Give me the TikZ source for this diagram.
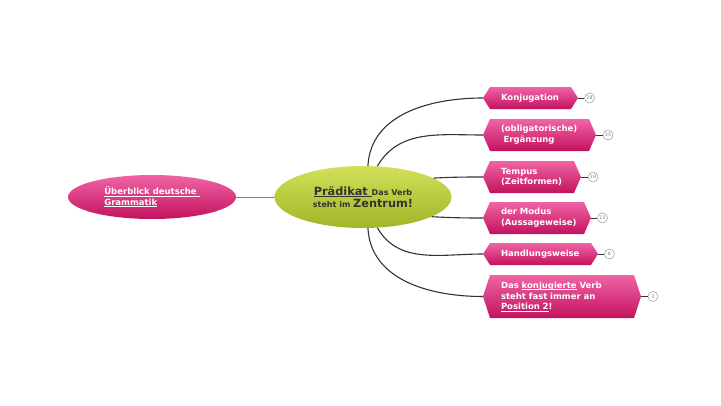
\documentclass[tikz,border=0pt]{standalone}
\usepackage{fontspec}
\setmainfont{DejaVu Sans}
\usetikzlibrary{shapes.geometric}
\definecolor{pinkTop}{HTML}{F064A6}
\definecolor{pinkMid}{HTML}{D62C77}
\definecolor{pinkBot}{HTML}{C3125E}
\definecolor{greenTop}{HTML}{D2E05A}
\definecolor{greenBot}{HTML}{A2B526}
\definecolor{darktext}{HTML}{333333}
\newcommand{\hexfont}{\fontsize{8.5}{10.8}\selectfont\bfseries}
\newsavebox{\ulxbox}
\newcommand{\ulx}[1]{\leavevmode\hbox{\sbox{\ulxbox}{#1}\rlap{\rule[-1.4pt]{\wd\ulxbox}{0.55pt}}\usebox{\ulxbox}}}
\tikzset{
  hexbox/.style={inner ysep=0pt, inner xsep=18pt, align=left, text=white, font=\hexfont,
    path picture={\shade[top color=pinkTop, middle color=pinkMid, bottom color=pinkBot]
      (path picture bounding box.west) -- ([xshift=7pt]path picture bounding box.north west)
      -- ([xshift=-7pt]path picture bounding box.north east) -- (path picture bounding box.east)
      -- ([xshift=-7pt]path picture bounding box.south east) -- ([xshift=7pt]path picture bounding box.south west) -- cycle;}},
  cnt/.style={circle, draw=gray!80, fill=white, line width=0.5pt, minimum size=10pt, inner sep=0pt,
    font=\fontsize{4.8}{5}\selectfont, text=gray},
  conn/.style={draw=darktext, line width=1.1pt},
  tick/.style={draw=darktext, line width=0.7pt},
}
\begin{document}
\begin{tikzpicture}[x=1pt,y=-1pt]
\useasboundingbox (0,0) rectangle (721,405);
\fill[white] (0,0) rectangle (721,405);

% left topic
\node[ellipse, minimum width=168pt, minimum height=44pt, inner sep=0pt,
  top color=pinkTop, middle color=pinkMid, bottom color=pinkBot,
  text=white, font=\hexfont, align=left] (l) at (152,197)
  {\ulx{Überblick deutsche }\\\ulx{Grammatik}};

% central topic
\node[ellipse, minimum width=177pt, minimum height=62pt, inner sep=0pt,
  top color=greenTop, bottom color=greenBot, text=darktext, align=center,
  font=\bfseries\fontsize{8}{12.5}\selectfont] (c) at (363,197)
  {{\fontsize{11.3}{12}\selectfont\ulx{Prädikat }}Das Verb\\steht im {\fontsize{11.3}{12}\selectfont Zentrum!}};

\draw[gray, line width=0.7pt] (l.east) -- (c.west);

% right subtopics
\node[hexbox, text width=59pt, minimum height=22pt] (k) at (530.5,98) {Konjugation};
\node[hexbox, text width=77pt, minimum height=32pt] (e) at (539.5,135) {(obligatorische)\\\hspace{2.5pt}Ergänzung};
\node[hexbox, text width=62pt, minimum height=32pt] (t) at (532,177) {Tempus\\(Zeitformen)};
\node[hexbox, text width=72pt, minimum height=32pt] (m) at (537,218) {der Modus\\(Aussageweise)};
\node[hexbox, text width=79pt, minimum height=22pt] (h) at (540.5,254) {Handlungsweise};
\node[hexbox, text width=122pt, minimum height=43pt] (p) at (562,296.5)
  {Das \ulx{konjugierte} Verb\\steht fast immer an\\\ulx{Position 2}!};

% counters
\node[cnt] (k1) at (589.5,98) {28};
\node[cnt] (e1) at (608,135) {35};
\node[cnt] (t1) at (593,177) {19};
\node[cnt] (m1) at (602.5,218) {15};
\node[cnt] (h1) at (609.5,254) {6};
\node[cnt] (p1) at (653,296.5) {3};
\draw[tick] (k.east) -- (k1);
\draw[tick] (e.east) -- (e1);
\draw[tick] (t.east) -- (t1);
\draw[tick] (m.east) -- (m1);
\draw[tick] (h.east) -- (h1);
\draw[tick] (p.east) -- (p1);

% connectors
\draw[conn] (c.81) to[out=87,in=180] (k.west);
\draw[conn] (c.65) to[out=60,in=180] (e.west);
\draw[conn] (c.15) to[out=3,in=180] (t.west);
\draw[conn] (c.-16) to[out=-3,in=180] (m.west);
\draw[conn] (c.-65) to[out=-60,in=180] (h.west);
\draw[conn] (c.-81) to[out=-87,in=180] (p.west);
\end{tikzpicture}
\end{document}
